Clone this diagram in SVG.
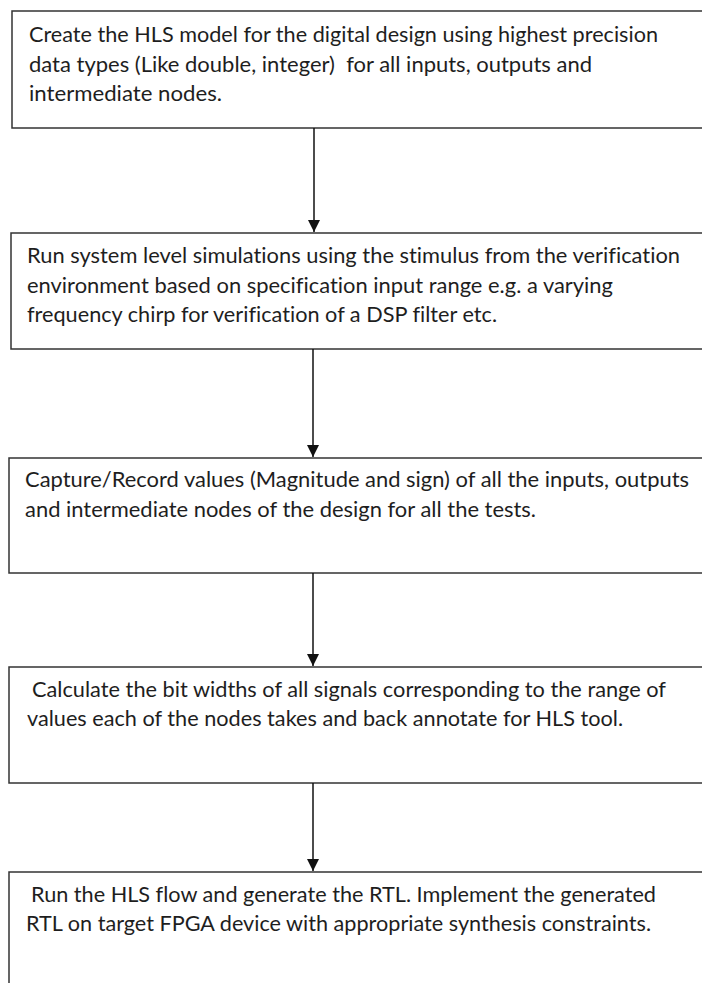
<svg xmlns="http://www.w3.org/2000/svg" width="702" height="983" viewBox="0 0 702 983">
<style>
  .box { fill: #ffffff; stroke: #333333; stroke-width: 1.5; }
  .t { font-family: Lato, "Open Sans", "Liberation Sans", sans-serif; font-size: 21.5px; fill: #1e1e1e; font-variant-ligatures: none; }
  .conn { stroke: #111111; stroke-width: 1.5; fill: none; }
</style>
<defs>
  <marker id="arrow" markerUnits="userSpaceOnUse" markerWidth="12" markerHeight="12" refX="12" refY="6" orient="auto" viewBox="0 0 12 12">
    <path d="M0,0 L12,6 L0,12 Z" fill="#111111"/>
  </marker>
</defs>
<rect width="702" height="983" fill="#ffffff"/>

<g id="node1">
  <rect class="box" x="12" y="11" width="720" height="117"/>
  <text class="t" x="29" y="42" textLength="629" lengthAdjust="spacingAndGlyphs">Create the HLS model for the digital design using highest precision</text>
  <text class="t" x="29" y="72" textLength="563" lengthAdjust="spacingAndGlyphs" xml:space="preserve">data types (Like double, integer)  for all inputs, outputs and</text>
  <text class="t" x="29" y="101" textLength="193" lengthAdjust="spacingAndGlyphs">intermediate nodes.</text>
</g>

<g id="node2">
  <rect class="box" x="11" y="233" width="720" height="116"/>
  <text class="t" x="27" y="263" textLength="653" lengthAdjust="spacingAndGlyphs">Run system level simulations using the stimulus from the verification</text>
  <text class="t" x="27" y="293" textLength="586" lengthAdjust="spacingAndGlyphs">environment based on specification input range e.g. a varying</text>
  <text class="t" x="27" y="322" textLength="470" lengthAdjust="spacingAndGlyphs">frequency chirp for verification of a DSP filter etc.</text>
</g>

<g id="node3">
  <rect class="box" x="9" y="458" width="720" height="115"/>
  <text class="t" x="25" y="487" textLength="664" lengthAdjust="spacingAndGlyphs">Capture/Record values (Magnitude and sign) of all the inputs, outputs</text>
  <text class="t" x="25" y="517" textLength="511" lengthAdjust="spacingAndGlyphs">and intermediate nodes of the design for all the tests.</text>
</g>

<g id="node4">
  <rect class="box" x="9" y="667" width="720" height="116"/>
  <text class="t" x="32" y="697" textLength="634" lengthAdjust="spacingAndGlyphs">Calculate the bit widths of all signals corresponding to the range of</text>
  <text class="t" x="27" y="726" textLength="596" lengthAdjust="spacingAndGlyphs">values each of the nodes takes and back annotate for HLS tool.</text>
</g>

<g id="node5">
  <rect class="box" x="9" y="872" width="720" height="140"/>
  <text class="t" x="31" y="902" textLength="625" lengthAdjust="spacingAndGlyphs">Run the HLS flow and generate the RTL. Implement the generated</text>
  <text class="t" x="26" y="931" textLength="625" lengthAdjust="spacingAndGlyphs">RTL on target FPGA device with appropriate synthesis constraints.</text>
</g>

<g id="connectors">
  <line class="conn" x1="314" y1="128" x2="314" y2="232" marker-end="url(#arrow)"/>
  <line class="conn" x1="313" y1="349" x2="313" y2="457" marker-end="url(#arrow)"/>
  <line class="conn" x1="313" y1="573" x2="313" y2="666" marker-end="url(#arrow)"/>
  <line class="conn" x1="313" y1="783" x2="313" y2="871" marker-end="url(#arrow)"/>
</g>
</svg>
